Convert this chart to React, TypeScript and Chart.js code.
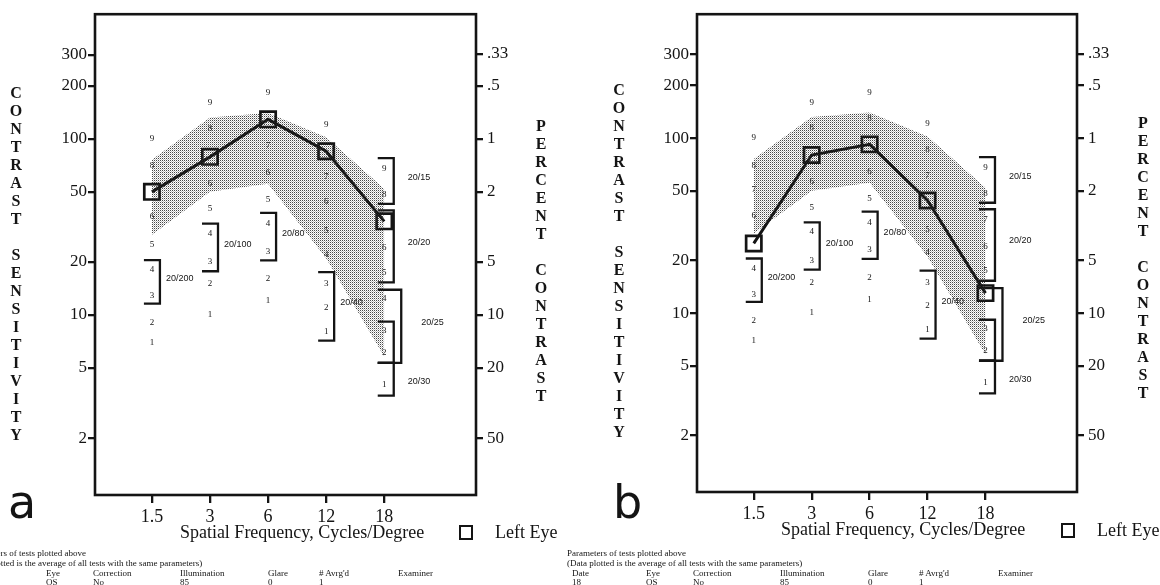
import React, { useEffect, useRef } from 'react';
import { Chart, registerables } from 'chart.js';

Chart.register(...registerables);

// ---------- data ----------
const FREQ_LABELS = ['1.5', '3', '6', '12', '18'];
const NORM_UPPER = [76, 132, 140, 102, 52];
const NORM_LOWER = [28.5, 50, 55.5, 21, 5.8];
const LEFT_EYE_A = [50, 79, 129, 85, 34];
const LEFT_EYE_B = [25, 80, 92, 44, 13];

const ROW_A = [7, 9, 12.8, 18, 25, 36, 51, 70, 100];
const ROW_B = [10, 15, 20, 29, 40, 56, 80, 114, 160];
const ROW_C = [12, 16, 23, 33, 45, 64, 92, 129, 182];
const ROW_D = [8, 11, 15, 22, 30, 44, 61, 86, 121];
const ROW_E = [4, 6.1, 8.1, 12.3, 17.5, 24, 34, 48, 68];
const LEVEL_ROWS = [ROW_A, ROW_B, ROW_C, ROW_D, ROW_E];

const CS_TICKS = [2, 5, 10, 20, 50, 100, 200, 300];
const PC_TICKS = [0.33, 0.5, 1, 2, 5, 10, 20, 50];
const PC_TICK_LABELS = ['.33', '.5', '1', '2', '5', '10', '20', '50'];

const ACUITY_COL = [0, 1, 2, 3, 4, 4, 4, 4, 4];
const ACUITY_TOP = [20.5, 33, 38, 17.5, 77.7, 39.2, 13.9, 9.16, 5.34];
const ACUITY_BOTTOM = [11.6, 17.7, 20.4, 7.15, 42.7, 15.3, 5.34, 5.34, 3.48];
const ACUITY_LABEL = ['20/200', '20/100', '20/80', '20/40', '20/15', '20/20', '20/25', '', '20/30'];
const ACUITY_LABEL_AT = [16, 25, 29, 11.7, 60, 25.9, 9.1, 0, 4.18];
const ACUITY_OUTER = [false, false, false, false, false, false, true, false, false];

const TABLE_LINE1 = 'Parameters of tests plotted above';
const TABLE_LINE2 = '(Data plotted is the average of all tests with the same parameters)';
const TABLE_HEAD = ['Date', 'Eye', 'Correction', 'Illumination', 'Glare', "# Avrg'd", 'Examiner'];
const TABLE_ROW = ['18', 'OS', 'No', '85', '0', '1', ''];

// ---------- layout ----------
const CS_MIN = 0.95;
const CS_MAX = 510;
const X_MIN = -0.98;
const X_MAX = 5.58;
const TABLE_COL_X = [5, 79, 126, 213, 301, 352, 431];
const SERIF = '"Liberation Serif", "Times New Roman", serif';
const INK = '#141414';

function makeStipple(): CanvasPattern | string {
  const c = document.createElement('canvas');
  c.width = 2;
  c.height = 2;
  const g = c.getContext('2d');
  if (!g) return 'rgba(0,0,0,0.2)';
  g.fillStyle = 'rgba(40,40,40,0.85)';
  g.fillRect(0, 0, 1, 1);
  g.fillStyle = 'rgba(40,40,40,0.3)';
  g.fillRect(1, 1, 1, 1);
  return g.createPattern(c, 'repeat') || 'rgba(0,0,0,0.2)';
}

function acuityPlugin(eye: number[]) {
  return {
    id: 'acuity',
    beforeDatasetsDraw(chart: any) {
      const ctx = chart.ctx as CanvasRenderingContext2D;
      const xs = chart.scales.x;
      const ys = chart.scales.y;
      ctx.save();
      ctx.fillStyle = INK;
      ctx.font = `9px ${SERIF}`;
      ctx.textAlign = 'center';
      ctx.textBaseline = 'middle';
      LEVEL_ROWS.forEach((row, i) => {
        const x = xs.getPixelForValue(i);
        row.forEach((v, j) => {
          if (Math.abs(Math.log10(v / eye[i])) < 0.06) return;
          ctx.fillText(String(j + 1), x, ys.getPixelForValue(v));
        });
      });
      ctx.strokeStyle = INK;
      ctx.lineWidth = 2.3;
      ctx.lineCap = 'butt';
      ctx.lineJoin = 'miter';
      ctx.font = '9px "Liberation Sans Narrow", "Liberation Sans", sans-serif';
      ctx.textAlign = 'left';
      ACUITY_COL.forEach((col, k) => {
        const xc = xs.getPixelForValue(col);
        const last = col === 4;
        const vx = xc + (ACUITY_OUTER[k] ? 17 : last ? 9.5 : 8);
        const capX = xc - (last ? 6.5 : 8);
        const yt = ys.getPixelForValue(ACUITY_TOP[k]);
        const yb = ys.getPixelForValue(ACUITY_BOTTOM[k]);
        ctx.beginPath();
        ctx.moveTo(capX, yt);
        ctx.lineTo(vx, yt);
        ctx.lineTo(vx, yb);
        ctx.lineTo(capX, yb);
        ctx.stroke();
        if (ACUITY_LABEL[k]) {
          const dx = last ? (ACUITY_OUTER[k] ? 20 : 14) : 6;
          ctx.fillText(ACUITY_LABEL[k], vx + dx, ys.getPixelForValue(ACUITY_LABEL_AT[k]));
        }
      });
      ctx.restore();
    },
  };
}

const boxPlugin = {
  id: 'box',
  afterDraw(chart: any) {
    const { ctx, chartArea: a } = chart;
    ctx.save();
    ctx.strokeStyle = INK;
    ctx.lineWidth = 2.6;
    ctx.strokeRect(a.left, a.top, a.right - a.left, a.bottom - a.top);
    ctx.restore();
  },
};

type PanelProps = { eye: number[]; left: number; w: number; h: number; axL: number; axR: number; axB: number; padT: number };

function Panel({ eye, left, w, h, axL, axR, axB, padT }: PanelProps) {
  const ref = useRef<HTMLCanvasElement>(null);
  useEffect(() => {
    if (!ref.current) return;
    const stipple = makeStipple();
    const pts = (arr: number[]) => arr.map((v, i) => ({ x: i, y: v }));
    const tickFont = { family: SERIF, size: 17 };
    const chart = new Chart(ref.current, {
      type: 'line',
      data: {
        datasets: [
          { label: 'upper', data: pts(NORM_UPPER), borderWidth: 0, pointRadius: 0, fill: false, borderColor: 'rgba(0,0,0,0)' },
          { label: 'lower', data: pts(NORM_LOWER), borderWidth: 0, pointRadius: 0, fill: '-1', borderColor: 'rgba(0,0,0,0)', backgroundColor: stipple as any },
          {
            label: 'Left Eye', data: pts(eye), borderColor: INK, borderWidth: 3, tension: 0,
            pointStyle: 'rect', pointRadius: 10.8, pointBorderWidth: 2.7, pointBorderColor: INK,
            pointBackgroundColor: 'rgba(0,0,0,0)', fill: false,
          },
        ],
      },
      options: {
        animation: false,
        responsive: false,
        maintainAspectRatio: false,
        layout: { padding: { top: padT, left: 0, right: 0, bottom: 0 } },
        plugins: { legend: { display: false }, tooltip: { enabled: false } },
        scales: {
          x: {
            type: 'linear', min: X_MIN, max: X_MAX,
            afterBuildTicks: (s: any) => { s.ticks = FREQ_LABELS.map((_, i) => ({ value: i })); },
            afterFit: (s: any) => { s.height = axB; },
            ticks: { callback: (v: any) => FREQ_LABELS[v] ?? '', font: { family: SERIF, size: 18 }, color: INK, padding: 3, maxRotation: 0, autoSkip: false },
            grid: { drawOnChartArea: false, drawTicks: true, tickLength: 8, color: INK, lineWidth: 2.3 },
            border: { display: false },
          },
          y: {
            type: 'logarithmic', position: 'left', min: CS_MIN, max: CS_MAX,
            afterBuildTicks: (s: any) => { s.ticks = CS_TICKS.map((v) => ({ value: v })); },
            afterFit: (s: any) => { s.width = axL; },
            ticks: { callback: (v: any) => String(v), font: tickFont, color: INK, padding: 1, autoSkip: false },
            grid: { drawOnChartArea: false, drawTicks: true, tickLength: 7, color: INK, lineWidth: 2.3 },
            border: { display: false },
          },
          y2: {
            type: 'logarithmic', position: 'right', reverse: true, min: 100 / CS_MAX, max: 100 / CS_MIN,
            afterBuildTicks: (s: any) => { s.ticks = PC_TICKS.map((v) => ({ value: v })); },
            afterFit: (s: any) => { s.width = axR; },
            ticks: { callback: (v: any) => PC_TICK_LABELS[PC_TICKS.indexOf(v)] ?? '', font: tickFont, color: INK, padding: 4, autoSkip: false },
            grid: { drawOnChartArea: false, drawTicks: true, tickLength: 7, color: INK, lineWidth: 2.3 },
            border: { display: false },
          },
        },
      } as any,
      plugins: [acuityPlugin(eye), boxPlugin],
    });
    return () => chart.destroy();
  }, []);
  return (
    <canvas ref={ref} width={w} height={h}
      style={{ position: 'absolute', left, top: 0, width: w, height: h, display: 'block' }} />
  );
}

type TProps = { x: number; y: number; s: number; children?: React.ReactNode; anchor?: 'left' | 'center' | 'right'; bold?: boolean; family?: string };
function T({ x, y, s, children, anchor = 'left', bold = false, family = SERIF }: TProps) {
  const w = 700;
  const left = anchor === 'left' ? x : anchor === 'center' ? x - w / 2 : x - w;
  return (
    <div style={{
      position: 'absolute', left, top: y - s, width: w, height: s * 2, lineHeight: `${s * 2}px`,
      fontSize: s, fontFamily: family, fontWeight: bold ? 700 : 400, textAlign: anchor, whiteSpace: 'pre', color: INK,
    }}>{children}</div>
  );
}

function Stack({ words, x, y }: { words: string[]; x: number; y: number }) {
  const step = 18;
  const gap = 36;
  const out: React.ReactNode[] = [];
  let yy = y;
  words.forEach((wd, wi) => {
    if (wi > 0) yy += gap - step;
    Array.from(wd).forEach((ch, ci) => {
      out.push(<T key={`${wi}-${ci}`} x={x} y={yy} s={16} anchor="center" bold>{ch}</T>);
      yy += step;
    });
  });
  return <>{out}</>;
}

function Table({ x0 }: { x0: number }) {
  const ys = [553, 563, 572.5, 581.5];
  return (
    <>
      <T x={x0} y={ys[0]} s={9}>{TABLE_LINE1}</T>
      <T x={x0} y={ys[1]} s={9}>{TABLE_LINE2}</T>
      {TABLE_HEAD.map((h, i) => <T key={'h' + i} x={x0 + TABLE_COL_X[i]} y={ys[2]} s={9}>{h}</T>)}
      {TABLE_ROW.map((r, i) => <T key={'r' + i} x={x0 + TABLE_COL_X[i]} y={ys[3]} s={9}>{r}</T>)}
    </>
  );
}

function Legend({ x, y }: { x: number; y: number }) {
  return (
    <>
      <div style={{ position: 'absolute', left: x, top: y - 7.5, width: 14, height: 15, border: `2.5px solid ${INK}`, boxSizing: 'border-box' }} />
      <T x={x + 36} y={y} s={18}>Left Eye</T>
    </>
  );
}

export default function App() {
  return (
    <div style={{ position: 'absolute', left: 0, top: 0, width: 1160, height: 585, overflow: 'hidden', background: '#fff' }}>
      <Panel eye={LEFT_EYE_A} left={0} w={580} h={585} axL={95} axR={104} axB={90} padT={14} />
      <Panel eye={LEFT_EYE_B} left={580} w={580} h={585} axL={117} axR={83} axB={93} padT={11} />

      <Stack words={['CONTRAST', 'SENSITIVITY']} x={16} y={93} />
      <Stack words={['PERCENT', 'CONTRAST']} x={541} y={126} />
      <T x={302} y={532} s={18} anchor="center">Spatial Frequency, Cycles/Degree</T>
      <Legend x={459} y={532} />
      <T x={8} y={502} s={46} family='"DejaVu Sans", sans-serif'>a</T>
      <Table x0={-33} />

      <Stack words={['CONTRAST', 'SENSITIVITY']} x={619} y={90} />
      <Stack words={['PERCENT', 'CONTRAST']} x={1143} y={123} />
      <T x={903} y={529} s={18} anchor="center">Spatial Frequency, Cycles/Degree</T>
      <Legend x={1061} y={530} />
      <T x={613} y={502} s={46} family='"DejaVu Sans", sans-serif'>b</T>
      <Table x0={567} />
    </div>
  );
}
